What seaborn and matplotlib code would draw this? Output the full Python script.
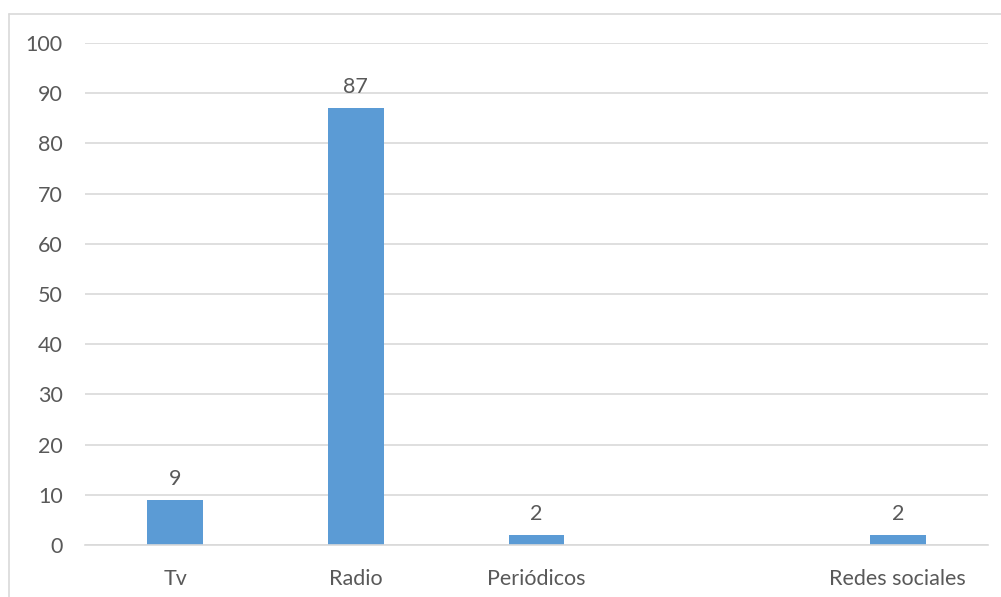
import numpy as np
import pandas as pd
import seaborn as sns
import matplotlib.pyplot as plt
from matplotlib.lines import Line2D

# Medio de comunicación / porcentaje
categorias = ["Tv", "Radio", "Periódicos", "", "Redes sociales"]
valores = [9, 87, 2, np.nan, 2]
y_ticks = [0, 10, 20, 30, 40, 50, 60, 70, 80, 90, 100]

df = pd.DataFrame({"medio": categorias, "valor": valores})

sns.set_style("white")
plt.rcParams["font.family"] = ["Lato", "DejaVu Sans"]
text_color = "#595959"
grid_color = "#D9D9D9"
fs = 15.5

fig = plt.figure(figsize=(10.01, 5.97), dpi=100)
ax = fig.add_axes([85 / 1001, 1 - 545 / 597, (988 - 85) / 1001, (545 - 43) / 597])

sns.barplot(data=df, x="medio", y="valor", order=categorias, color="#5B9BD5",
            width=0.31, saturation=1, errorbar=None, linewidth=0, ax=ax)

ax.bar_label(ax.containers[0], fmt="{:.0f}", padding=8, fontsize=fs, color=text_color)

ax.set_ylim(0, 100)
ax.set_yticks(y_ticks)
ax.set_xlim(-0.5, len(categorias) - 0.5)
ax.yaxis.grid(True, color=grid_color, linewidth=1.2)
ax.set_axisbelow(True)
for side in ["top", "right", "left"]:
    ax.spines[side].set_visible(False)
ax.spines["bottom"].set_color(grid_color)
ax.spines["bottom"].set_linewidth(1.2)
ax.tick_params(axis="both", length=0, labelsize=fs, labelcolor=text_color)
ax.tick_params(axis="y", pad=16)
ax.tick_params(axis="x", pad=17)
ax.set_xlabel("")
ax.set_ylabel("")

# marco exterior del gráfico
fig.add_artist(Line2D([9 / 1001, 9 / 1001], [0, 1 - 14 / 597], color=grid_color, linewidth=1.2))
fig.add_artist(Line2D([9 / 1001, 1], [1 - 14 / 597, 1 - 14 / 597], color=grid_color, linewidth=1.2))

fig.savefig("out.png", dpi=100)
